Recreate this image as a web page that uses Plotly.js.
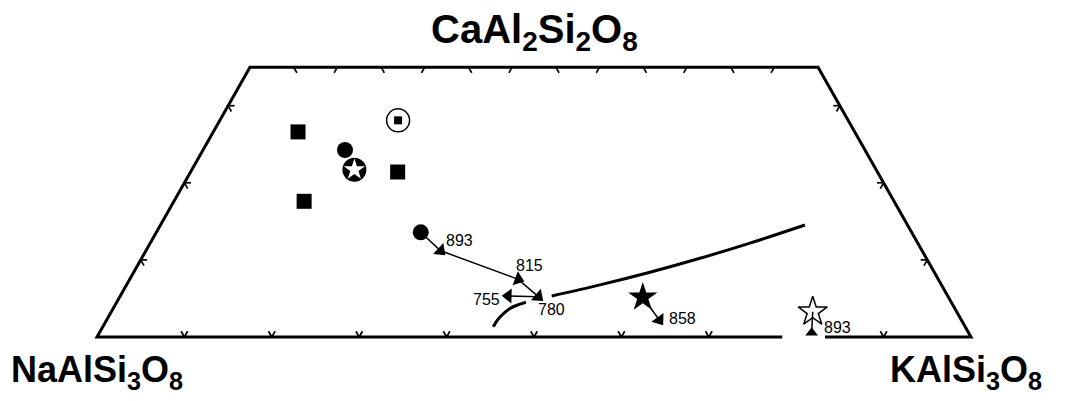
<!DOCTYPE html>
<html><head><meta charset="utf-8">
<script src="https://cdn.plot.ly/plotly-3.0.1.min.js"></script>
<style>html,body{margin:0;padding:0;background:#fff}#plot{width:1071px;height:401px}</style>
</head><body><div id="plot"></div><script>
// Compositions as mole fractions: An (CaAl2Si2O8) and Or (KAlSi3O8); Ab = 1 - An - Or
const AN_MAX = 0.35;                       // diagram truncated at 35 % An
const tickSteps = [0.1,0.2,0.3,0.4,0.5,0.6,0.7,0.8,0.9];
const bottomGapOr = [0.784, 0.833];        // gap in the Ab–Or join around the 893 label

const squaresAn = [0.266, 0.214, 0.176];
const squaresOr = [0.097, 0.237, 0.149];
const dotAn = [0.2425];
const dotOr = [0.1625];
const circledStarAn = [0.217];
const circledStarOr = [0.186];
const circledSquareAn = [0.281];
const circledSquareOr = [0.204];

const pathA_An = [0.1358, 0.1119, 0.0748, 0.0523, 0.0532];
const pathA_Or = [0.3025, 0.3372, 0.4446, 0.4788, 0.4440];
const pathA_T  = ['', '893', '815', '780', '755'];
const pathB_An = [0.0515, 0.0220];
const pathB_Or = [0.5987, 0.6324];
const pathB_T  = ['', '858'];
const pathC_An = [0.0056, 0.0328];
const pathC_Or = [0.8149, 0.8025];
const pathC_T  = ['893', ''];

const upperCurveAn = [0.0532, 0.0676, 0.0840, 0.1021, 0.1218, 0.1453];
const upperCurveOr = [0.4937, 0.5417, 0.5907, 0.6389, 0.6862, 0.7374];
const lowerCurveAn = [0.0134, 0.0246, 0.0370, 0.0450];
const lowerCurveOr = [0.4467, 0.4477, 0.4540, 0.4683];

// ternary -> cartesian
const X = (an, or) => or + an / 2;
const Y = (an) => an;
const mapX = (A, O) => A.map((a, i) => X(a, O[i]));

// outline (open at the gap in the bottom edge)
const outX = [], outY = [];
function pt(an, or) { outX.push(X(an, or)); outY.push(Y(an)); }
pt(0, bottomGapOr[0]); pt(0, 0); pt(AN_MAX, 0); pt(AN_MAX, 1 - AN_MAX); pt(0, 1); pt(0, bottomGapOr[1]);

// ticks along the grid directions
const L = 0.0075;
const tkX = [], tkY = [];
function seg(an, or, dAn, dOr) {
  tkX.push(X(an, or), X(an + dAn, or + dOr), null);
  tkY.push(Y(an), Y(an + dAn), null);
}
const eps = 1e-9;
tickSteps.forEach(t => {
  if (!(t > bottomGapOr[0] && t < bottomGapOr[1])) { seg(0, t, L, 0); seg(0, t, L, -L); }
  if (t < 1 - AN_MAX - eps) {
    seg(AN_MAX, 1 - AN_MAX - t, -L, L);
    seg(AN_MAX, t, -L, 0);
  }
  if (t < AN_MAX - eps) {
    seg(t, 0, 0, L); seg(t, 0, -L, L);
    seg(t, 1 - t, 0, -L); seg(t, 1 - t, -L, 0);
  }
});

const K = '#000';
const first = a => [a[0]];
const last = a => [a[a.length - 1]];
const traces = [
  {x: outX, y: outY, mode: 'lines', line: {color: K, width: 3}},
  {x: tkX, y: tkY, mode: 'lines', line: {color: K, width: 1.7}},
  {x: mapX(upperCurveAn, upperCurveOr), y: upperCurveAn, mode: 'lines',
   line: {color: K, width: 3, shape: 'spline', smoothing: 1}},
  {x: mapX(lowerCurveAn, lowerCurveOr), y: lowerCurveAn, mode: 'lines',
   line: {color: K, width: 3, shape: 'spline', smoothing: 1}},
  {x: mapX(squaresAn, squaresOr), y: squaresAn, mode: 'markers',
   marker: {symbol: 'square', size: 15, color: K}},
  {x: mapX(dotAn, dotOr), y: dotAn, mode: 'markers',
   marker: {symbol: 'circle', size: 16, color: K}},
  {x: mapX(circledStarAn, circledStarOr), y: circledStarAn, mode: 'markers',
   marker: {symbol: 'circle', size: 24, color: K}},
  {x: mapX(circledStarAn, circledStarOr), y: circledStarAn, mode: 'markers',
   marker: {symbol: 'star', size: 16, color: '#fff', line: {width: 0}}},
  {x: mapX(circledSquareAn, circledSquareOr), y: circledSquareAn, mode: 'markers',
   marker: {symbol: 'circle-open', size: 23, color: K, line: {width: 1.5, color: K}}},
  {x: mapX(circledSquareAn, circledSquareOr), y: circledSquareAn, mode: 'markers',
   marker: {symbol: 'square', size: 8, color: K}},
  // path A: arrowheads point along the path
  {x: mapX(pathA_An, pathA_Or), y: pathA_An, mode: 'lines+markers',
   line: {color: K, width: 1.5},
   marker: {symbol: 'triangle-up', size: 13, color: K, angleref: 'previous'}},
  {x: mapX(first(pathA_An), first(pathA_Or)), y: first(pathA_An), mode: 'markers',
   marker: {symbol: 'circle', size: 16, color: K}},
  // path B
  {x: mapX(pathB_An, pathB_Or), y: pathB_An, mode: 'lines+markers',
   line: {color: K, width: 1.5},
   marker: {symbol: 'triangle-up', size: 13, color: K, angleref: 'previous'}},
  {x: mapX(first(pathB_An), first(pathB_Or)), y: first(pathB_An), mode: 'markers',
   marker: {symbol: 'star', size: 22, color: K}},
  // path C
  {x: mapX(pathC_An, pathC_Or), y: pathC_An, mode: 'lines',
   line: {color: K, width: 1.5}},
  {x: mapX(first(pathC_An), first(pathC_Or)), y: first(pathC_An), mode: 'markers',
   marker: {symbol: 'triangle-up', size: 11, color: K}},
  {x: mapX(last(pathC_An), last(pathC_Or)), y: last(pathC_An), mode: 'markers',
   marker: {symbol: 'star-open', size: 22, color: K, line: {width: 1.5, color: K}}}
];

// temperature labels (pixel offsets from their point)
const off = {A: [[0,0],[19,10],[11,14],[13,-13],[-22,-4]], B: [[0,0],[23,2]], C: [[26,5],[0,0]]};
const annotations = [];
function addLabels(A, O, T, offs) {
  T.forEach((t, i) => {
    if (!t) return;
    annotations.push({x: X(A[i], O[i]), y: Y(A[i]), text: t, showarrow: false,
      xshift: offs[i][0], yshift: offs[i][1],
      font: {family: 'Liberation Sans, Arial, sans-serif', size: 16, color: K}});
  });
}
addLabels(pathA_An, pathA_Or, pathA_T, off.A);
addLabels(pathB_An, pathB_Or, pathB_T, off.B);
addLabels(pathC_An, pathC_Or, pathC_T, off.C);

const endFont = {family: 'Liberation Sans, Arial, sans-serif', color: K, weight: 700};
annotations.push(
  {x: X(AN_MAX, (1 - AN_MAX) / 2), y: AN_MAX, text: 'CaAl<sub>2</sub>Si<sub>2</sub>O<sub>8</sub>',
   showarrow: false, yanchor: 'bottom', yshift: 8, font: Object.assign({size: 40}, endFont)},
  {x: X(0, 0), y: 0, text: 'NaAlSi<sub>3</sub>O<sub>8</sub>', showarrow: false,
   yanchor: 'top', yshift: -10, font: Object.assign({size: 36}, endFont)},
  {x: X(0, 1), y: 0, text: 'KAlSi<sub>3</sub>O<sub>8</sub>', showarrow: false,
   yanchor: 'top', yshift: -10, xshift: -5, font: Object.assign({size: 36}, endFont)}
);

const layout = {
  width: 1071, height: 401, margin: {l: 0, r: 0, t: 0, b: 0},
  paper_bgcolor: '#fff', plot_bgcolor: '#fff', showlegend: false,
  xaxis: {range: [-0.11098, 1.11442], visible: false, fixedrange: true},
  yaxis: {range: [-0.0830, 0.43709], visible: false, fixedrange: true},
  annotations: annotations
};
Plotly.newPlot('plot', traces, layout, {staticPlot: true});
</script></body></html>
